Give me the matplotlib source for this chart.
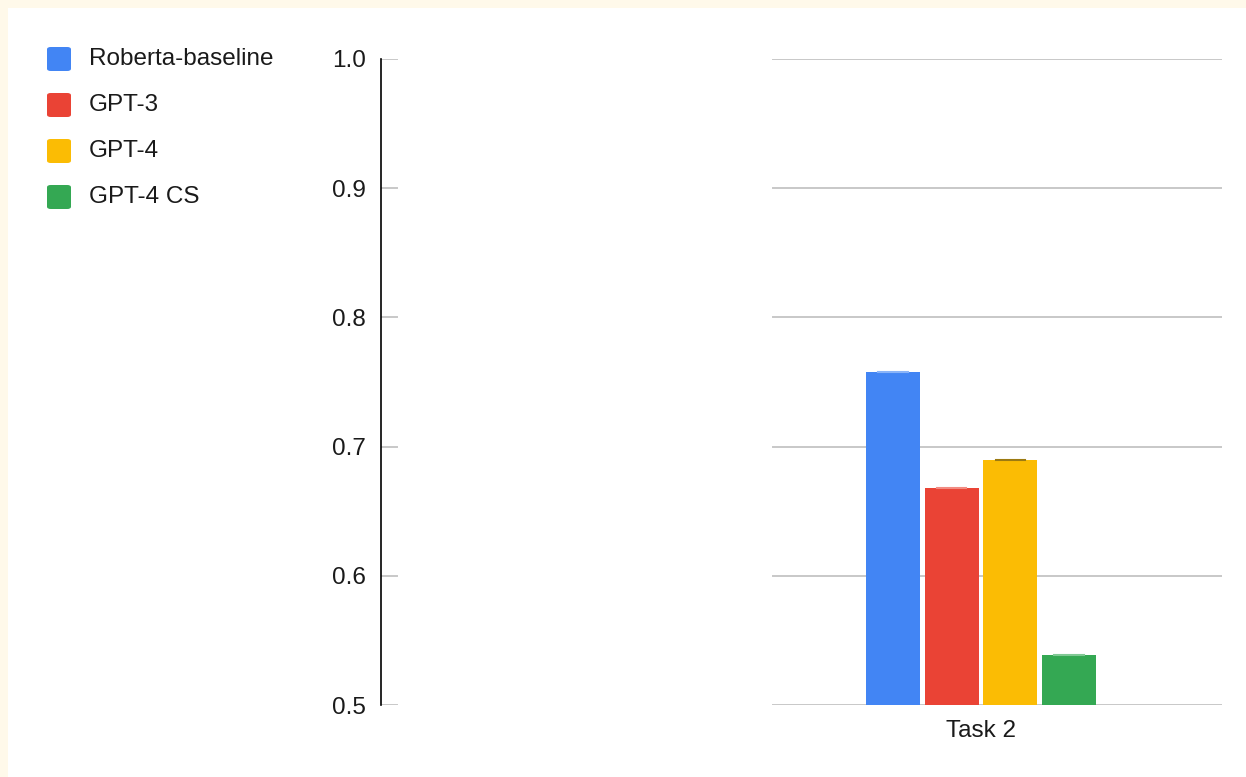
import numpy as np
import matplotlib.pyplot as plt
from matplotlib.patches import FancyBboxPatch, Rectangle

plt.rcParams['font.family'] = ['Liberation Sans', 'DejaVu Sans']

# Data
models = ['Roberta-baseline', 'GPT-3', 'GPT-4', 'GPT-4 CS']
colors = ['#4285F4', '#EA4335', '#FBBC04', '#34A853']
cap_colors = ['#8AB4F8', '#F28B82', '#9C7A12', '#81C995']
scores = [0.758, 0.668, 0.690, 0.539]
task = 'Task 2'
yticks = [0.5, 0.6, 0.7, 0.8, 0.9, 1.0]

W, H = 1246, 777
fig = plt.figure(figsize=(W / 100, H / 100), dpi=100, facecolor='white')

# cream strip on top and left edges
fig.patches.append(Rectangle((0, 1 - 8 / H), 1, 8 / H, transform=fig.transFigure,
                             facecolor='#FFF9EA', edgecolor='none', zorder=-5))
fig.patches.append(Rectangle((0, 0), 8 / W, 1, transform=fig.transFigure,
                             facecolor='#FFF9EA', edgecolor='none', zorder=-5))

left, right, top, bottom = 381, 1222, 59, 705
ax = fig.add_axes([left / W, 1 - bottom / H, (right - left) / W, (bottom - top) / H])
ax.set_facecolor('none')

# bar layout (in units of bar spacing)
n = len(scores)
x = np.arange(n) - (n - 1) / 2
width = 0.92
ax.bar(x, np.array(scores) - 0.5, bottom=0.5, width=width, color=colors, zorder=3)
for xi, s, cc in zip(x, scores, cap_colors):
    ax.plot([xi - 0.25, xi + 0.25], [s, s], color=cc, lw=1.5, zorder=4)

center_px = 981
spacing = 58.7
ax.set_xlim((left - center_px) / spacing, (right - center_px) / spacing)
ax.set_ylim(0.5, 1.0)

# gridlines: short stub at axis and the main stretch on the right
for yv in yticks:
    ax.axhline(yv, xmin=0, xmax=16 / (right - left), color='#C8C8C8', lw=1.4, zorder=1)
    ax.axhline(yv, xmin=(773 - left) / (right - left), xmax=1, color='#C8C8C8', lw=1.4, zorder=1)

for sp in ['top', 'right', 'bottom']:
    ax.spines[sp].set_visible(False)
ax.spines['left'].set_color('black')
ax.spines['left'].set_linewidth(1.2)

fs = 17.5
ax.set_yticks(yticks)
ax.set_yticklabels([f'{v:.1f}' for v in yticks])
ax.tick_params(axis='y', length=0, pad=11, labelsize=fs, labelcolor='#1a1a1a')
ax.set_xticks([0])
ax.set_xticklabels([task])
ax.tick_params(axis='x', length=0, pad=11, labelsize=fs, labelcolor='#1a1a1a')

# legend drawn manually
row_y = [59, 105, 151, 197]
for name, c, ry in zip(models, colors, row_y):
    fig.patches.append(FancyBboxPatch((47 / W, 1 - (ry + 12) / H), 24 / W, 24 / H,
                                      boxstyle='round,pad=0,rounding_size=0.003',
                                      transform=fig.transFigure, facecolor=c,
                                      edgecolor='none'))
    fig.text(89 / W, 1 - ry / H, name, fontsize=fs, color='#1a1a1a',
             va='center', ha='left')

fig.savefig('out.png', dpi=100, facecolor='white')
